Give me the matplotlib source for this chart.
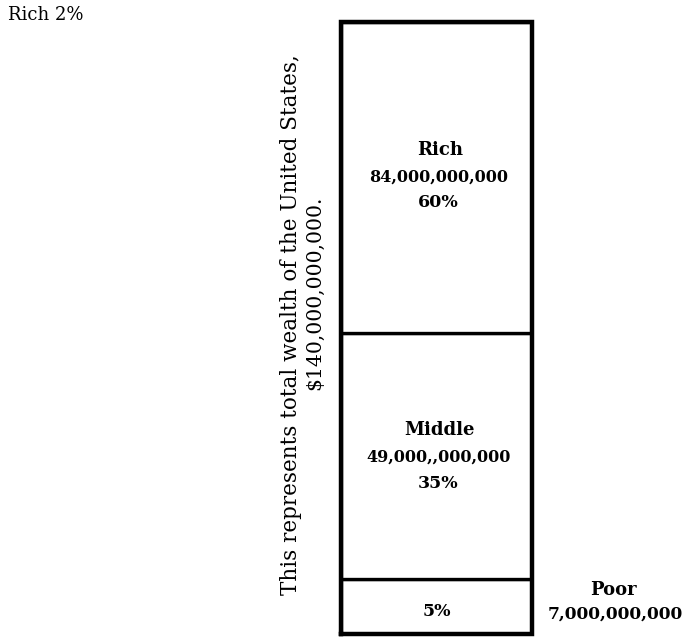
import matplotlib
matplotlib.use("Agg")
import matplotlib.pyplot as plt

# Data
groups = ["Poor", "Middle", "Rich"]
amounts = ["7,000,000,000", "49,000,,000,000", "84,000,000,000"]
percents = ["5%", "35%", "60%"]
drawn_heights = [55, 246, 310]   # section heights as drawn in the picture
side_note = "Rich 2%"
caption = ["This represents total wealth of the United States,", "$140,000,000,000."]

plt.rcParams["font.family"] = ["DejaVu Serif"]
W, H = 690, 639
fig = plt.figure(figsize=(W / 100, H / 100), dpi=100)
fig.patch.set_facecolor("white")

ax = fig.add_axes([341 / W, 1 - 634 / H, 191 / W, 612 / H])
total = sum(drawn_heights)
bottom = 0
bottoms = []
for h in drawn_heights:
    ax.bar(0.5, h, width=1.0, bottom=bottom, color="white", edgecolor="black", linewidth=2.4)
    bottoms.append(bottom)
    bottom += h
ax.set_xlim(0, 1)
ax.set_ylim(0, total)
ax.set_axis_off()
# outer frame
ax.plot([0, 0, 1, 1, 0], [0, total, total, 0, 0], color="black", linewidth=3.2, clip_on=False,
        solid_joinstyle="miter")

def fy(y):
    return 1 - y / H

def fx(x):
    return x / W

# Rich section labels
fig.text(fx(440), fy(150), groups[2], ha="center", va="center", fontsize=13, fontweight="bold")
fig.text(fx(439), fy(177), amounts[2], ha="center", va="center", fontsize=11.5, fontweight="bold")
fig.text(fx(438), fy(203), percents[2], ha="center", va="center", fontsize=12.5, fontweight="bold")

# Middle section labels
fig.text(fx(440), fy(430), groups[1], ha="center", va="center", fontsize=13, fontweight="bold")
fig.text(fx(439), fy(457), amounts[1], ha="center", va="center", fontsize=11.5, fontweight="bold")
fig.text(fx(438), fy(484), percents[1], ha="center", va="center", fontsize=12.5, fontweight="bold")

# Poor section
fig.text(fx(437), fy(612), percents[0], ha="center", va="center", fontsize=12.5, fontweight="bold")

fig.text(fx(613), fy(590), groups[0], ha="center", va="center", fontsize=13, fontweight="bold")
fig.text(fx(615), fy(614), amounts[0], ha="center", va="center", fontsize=12.3, fontweight="bold")

fig.text(fx(8), fy(15), side_note, ha="left", va="center", fontsize=13)

fig.text(fx(291), fy(325), caption[0], ha="center", va="center", rotation=90, fontsize=15.5)
fig.text(fx(315), fy(293), caption[1], ha="center", va="center", rotation=90, fontsize=14.7)

fig.savefig("out.png", dpi=100, facecolor="white")
